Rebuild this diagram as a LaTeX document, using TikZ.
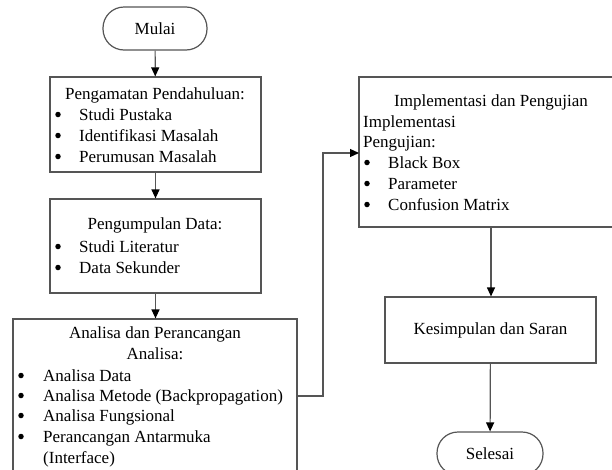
\documentclass[tikz,border=0pt]{standalone}
\usepackage{fontspec}
\setmainfont{Liberation Serif}
\usetikzlibrary{arrows.meta}
\definecolor{linegray}{RGB}{85,85,85}
\begin{document}
\begin{tikzpicture}[x=1pt,y=-1pt,
  box/.style={draw=linegray,line width=1.2pt,inner sep=0pt,font=\fontsize{17}{21}\selectfont},
  term/.style={box,rounded corners=21pt},
  flow/.style={draw=linegray,line width=1.2pt,-{Triangle[length=9pt,width=8pt,fill=black,color=black]}},
  txt/.style={inner sep=0pt,font=\fontsize{17}{21}\selectfont,anchor=base},
  itm/.style={txt,anchor=base west},
  bul/.style={circle,fill=black,inner sep=0pt,minimum size=5.5pt}]
\useasboundingbox (0,0) rectangle (612,469);
\clip (0,0) rectangle (612,469);
% boxes
\node[term,minimum width=104pt,minimum height=43pt] (start) at (155,28.5) {Mulai};
\node[box,minimum width=211pt,minimum height=95pt] (b1) at (155.5,124.5) {};
\node[box,minimum width=211pt,minimum height=94pt] (b2) at (155.5,246) {};
\node[box,minimum width=284pt,minimum height=160pt] (b3) at (155,399) {};
\node[box,minimum width=264pt,minimum height=150pt] (b4) at (491,152) {};
\node[box,minimum width=211pt,minimum height=66pt] (b5) at (490.5,330) {Kesimpulan dan Saran};
\node[term,minimum width=106pt,minimum height=43pt] (stop) at (490,453.5) {Selesai};
% box 1 text
\node[txt] (t1) at (155,99) {Pengamatan Pendahuluan:};
\node[bul] (t1a) at (58,114.5) {}; \node[itm] (t1b) at (79,120) {Studi Pustaka};
\node[bul] (t1c) at (58,135.5) {}; \node[itm] (t1d) at (79,141) {Identifikasi Masalah};
\node[bul] (t1e) at (58,156.5) {}; \node[itm] (t1f) at (79,162) {Perumusan Masalah};
% box 2 text
\node[txt] (t2) at (155,229) {Pengumpulan Data:};
\node[bul] (t2a) at (58,246.5) {}; \node[itm] (t2b) at (79,252) {Studi Literatur};
\node[bul] (t2c) at (58,267.5) {}; \node[itm] (t2d) at (79,273) {Data Sekunder};
% box 3 text
\node[txt] (t3) at (155,338) {Analisa dan Perancangan};
\node[txt] (t3a) at (155,359) {Analisa:};
\node[bul] (t3b) at (21,375.5) {}; \node[itm] (t3c) at (43,381) {Analisa Data};
\node[bul] (t3d) at (21,395.5) {}; \node[itm] (t3e) at (43,401) {Analisa Metode (Backpropagation)};
\node[bul] (t3f) at (21,415.5) {}; \node[itm] (t3g) at (43,421) {Analisa Fungsional};
\node[bul] (t3h) at (21,436.5) {}; \node[itm] (t3i) at (43,442) {Perancangan Antarmuka};
\node[itm] (t3j) at (43,463) {(Interface)};
% box 4 text
\node[txt] (t4) at (491,106) {Implementasi dan Pengujian};
\node[itm] (t4a) at (363,127) {Implementasi};
\node[itm] (t4b) at (363,147) {Pengujian:};
\node[bul] (t4c) at (367,162.5) {}; \node[itm] (t4d) at (388,168) {Black Box};
\node[bul] (t4e) at (367,183.5) {}; \node[itm] (t4f) at (388,189) {Parameter};
\node[bul] (t4g) at (367,204.5) {}; \node[itm] (t4h) at (388,210) {Confusion Matrix};
% connectors
\draw[flow] (start) -- (b1);
\draw[flow] (b1) -- (b2);
\draw[flow] (b2.south) -- (b2.south |- b3.north);
\coordinate (b3out) at (297,396);
\coordinate (b4in) at (359,153);
\draw[flow] (b3out) -- ++(26,0) |- (b4in);
\draw[flow] (b4.south) -- (b4.south |- b5.north);
\draw[flow] (b5) -- (stop);
\end{tikzpicture}
\end{document}
